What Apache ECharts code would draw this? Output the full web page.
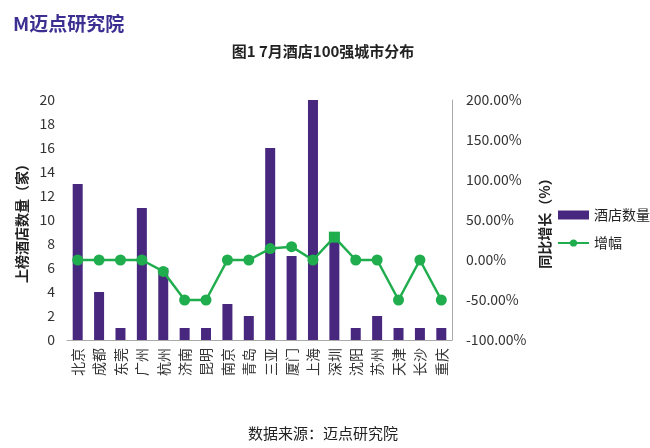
<!DOCTYPE html>
<html><head><meta charset="utf-8">
<script src="https://cdn.jsdelivr.net/npm/echarts@6/dist/echarts.min.js"></script>
<style>html,body{margin:0;padding:0;background:#fff}#c{width:650px;height:448px}</style>
</head><body><div id="c"></div>
<script>
const categories = ['北京','成都','东莞','广州','杭州','济南','昆明','南京','青岛','三亚','厦门','上海','深圳','沈阳','苏州','天津','长沙','重庆'];
const hotelCounts = [13,4,1,11,6,1,1,3,2,16,7,20,9,1,2,1,1,1];
const growth = [0,0,0,0,-14.29,-50,-50,0,0,14.29,16.67,0,28.57,0,0,-50,0,-50];
const leftTicks = {min:0, max:20, interval:2};
const rightTicks = {min:-100, max:200, interval:50};

const font = '"Noto Sans CJK SC", sans-serif';
const chart = echarts.init(document.getElementById('c'));
chart.setOption({
  backgroundColor:'#fff',
  textStyle:{fontFamily:font},
  title:[
    {text:'图1 7月酒店100强城市分布', left:318, top:39, textAlign:'center',
     textStyle:{fontSize:15, fontWeight:'bold', color:'#222', fontFamily:font}},
    {text:'数据来源：迈点研究院', left:318, top:421, textAlign:'center',
     textStyle:{fontSize:15, fontWeight:'normal', color:'#222', fontFamily:font}},
    {text:'M迈点研究院', left:8, top:9,
     textStyle:{fontSize:19, fontWeight:'bold', color:'#3b2f92', fontFamily:font}}
  ],
  legend:{
    orient:'vertical', left:552, top:203, itemGap:14, itemWidth:31, itemHeight:9,
    textStyle:{fontSize:14, color:'#222', fontFamily:font},
    data:[{name:'酒店数量', icon:'rect'},{name:'增幅'}]
  },
  grid:{left:67, right:198, top:100, bottom:108, containLabel:false},
  xAxis:{
    type:'category', data:categories,
    axisLine:{show:true, lineStyle:{color:'#aaa', width:1}},
    axisTick:{show:false},
    axisLabel:{rotate:90, fontSize:14, color:'#333', margin:8, fontFamily:font, interval:0}
  },
  yAxis:[
    {type:'value', min:leftTicks.min, max:leftTicks.max, interval:leftTicks.interval,
     name:'上榜酒店数量（家）', nameLocation:'middle', nameGap:38, nameRotate:90,
     nameTextStyle:{fontSize:14, fontWeight:'bold', color:'#222', fontFamily:font},
     axisLine:{show:false}, axisTick:{show:false}, splitLine:{show:false},
     axisLabel:{fontSize:14, color:'#333', margin:12, fontFamily:font}},
    {type:'value', min:rightTicks.min, max:rightTicks.max, interval:rightTicks.interval,
     name:'同比增长（%）', nameLocation:'middle', nameGap:80, nameRotate:90,
     nameTextStyle:{fontSize:14, fontWeight:'bold', color:'#222', fontFamily:font},
     axisLine:{show:true, lineStyle:{color:'#aaa', width:1}}, axisTick:{show:false}, splitLine:{show:false},
     axisLabel:{fontSize:14, color:'#333', margin:14, fontFamily:font,
       formatter:v=>v.toFixed(2)+'%'}}
  ],
  series:[
    {name:'酒店数量', type:'bar', data:hotelCounts, barWidth:10,
     itemStyle:{color:'#48287f'}},
    {name:'增幅', type:'line', yAxisIndex:1,
     data:growth.map((v,i)=> i===12 ? {value:v, symbol:'rect'} : v),
     symbol:'circle', symbolSize:11,
     lineStyle:{color:'#1fad4e', width:2.5}, itemStyle:{color:'#1fad4e'}}
  ]
});
</script></body></html>
